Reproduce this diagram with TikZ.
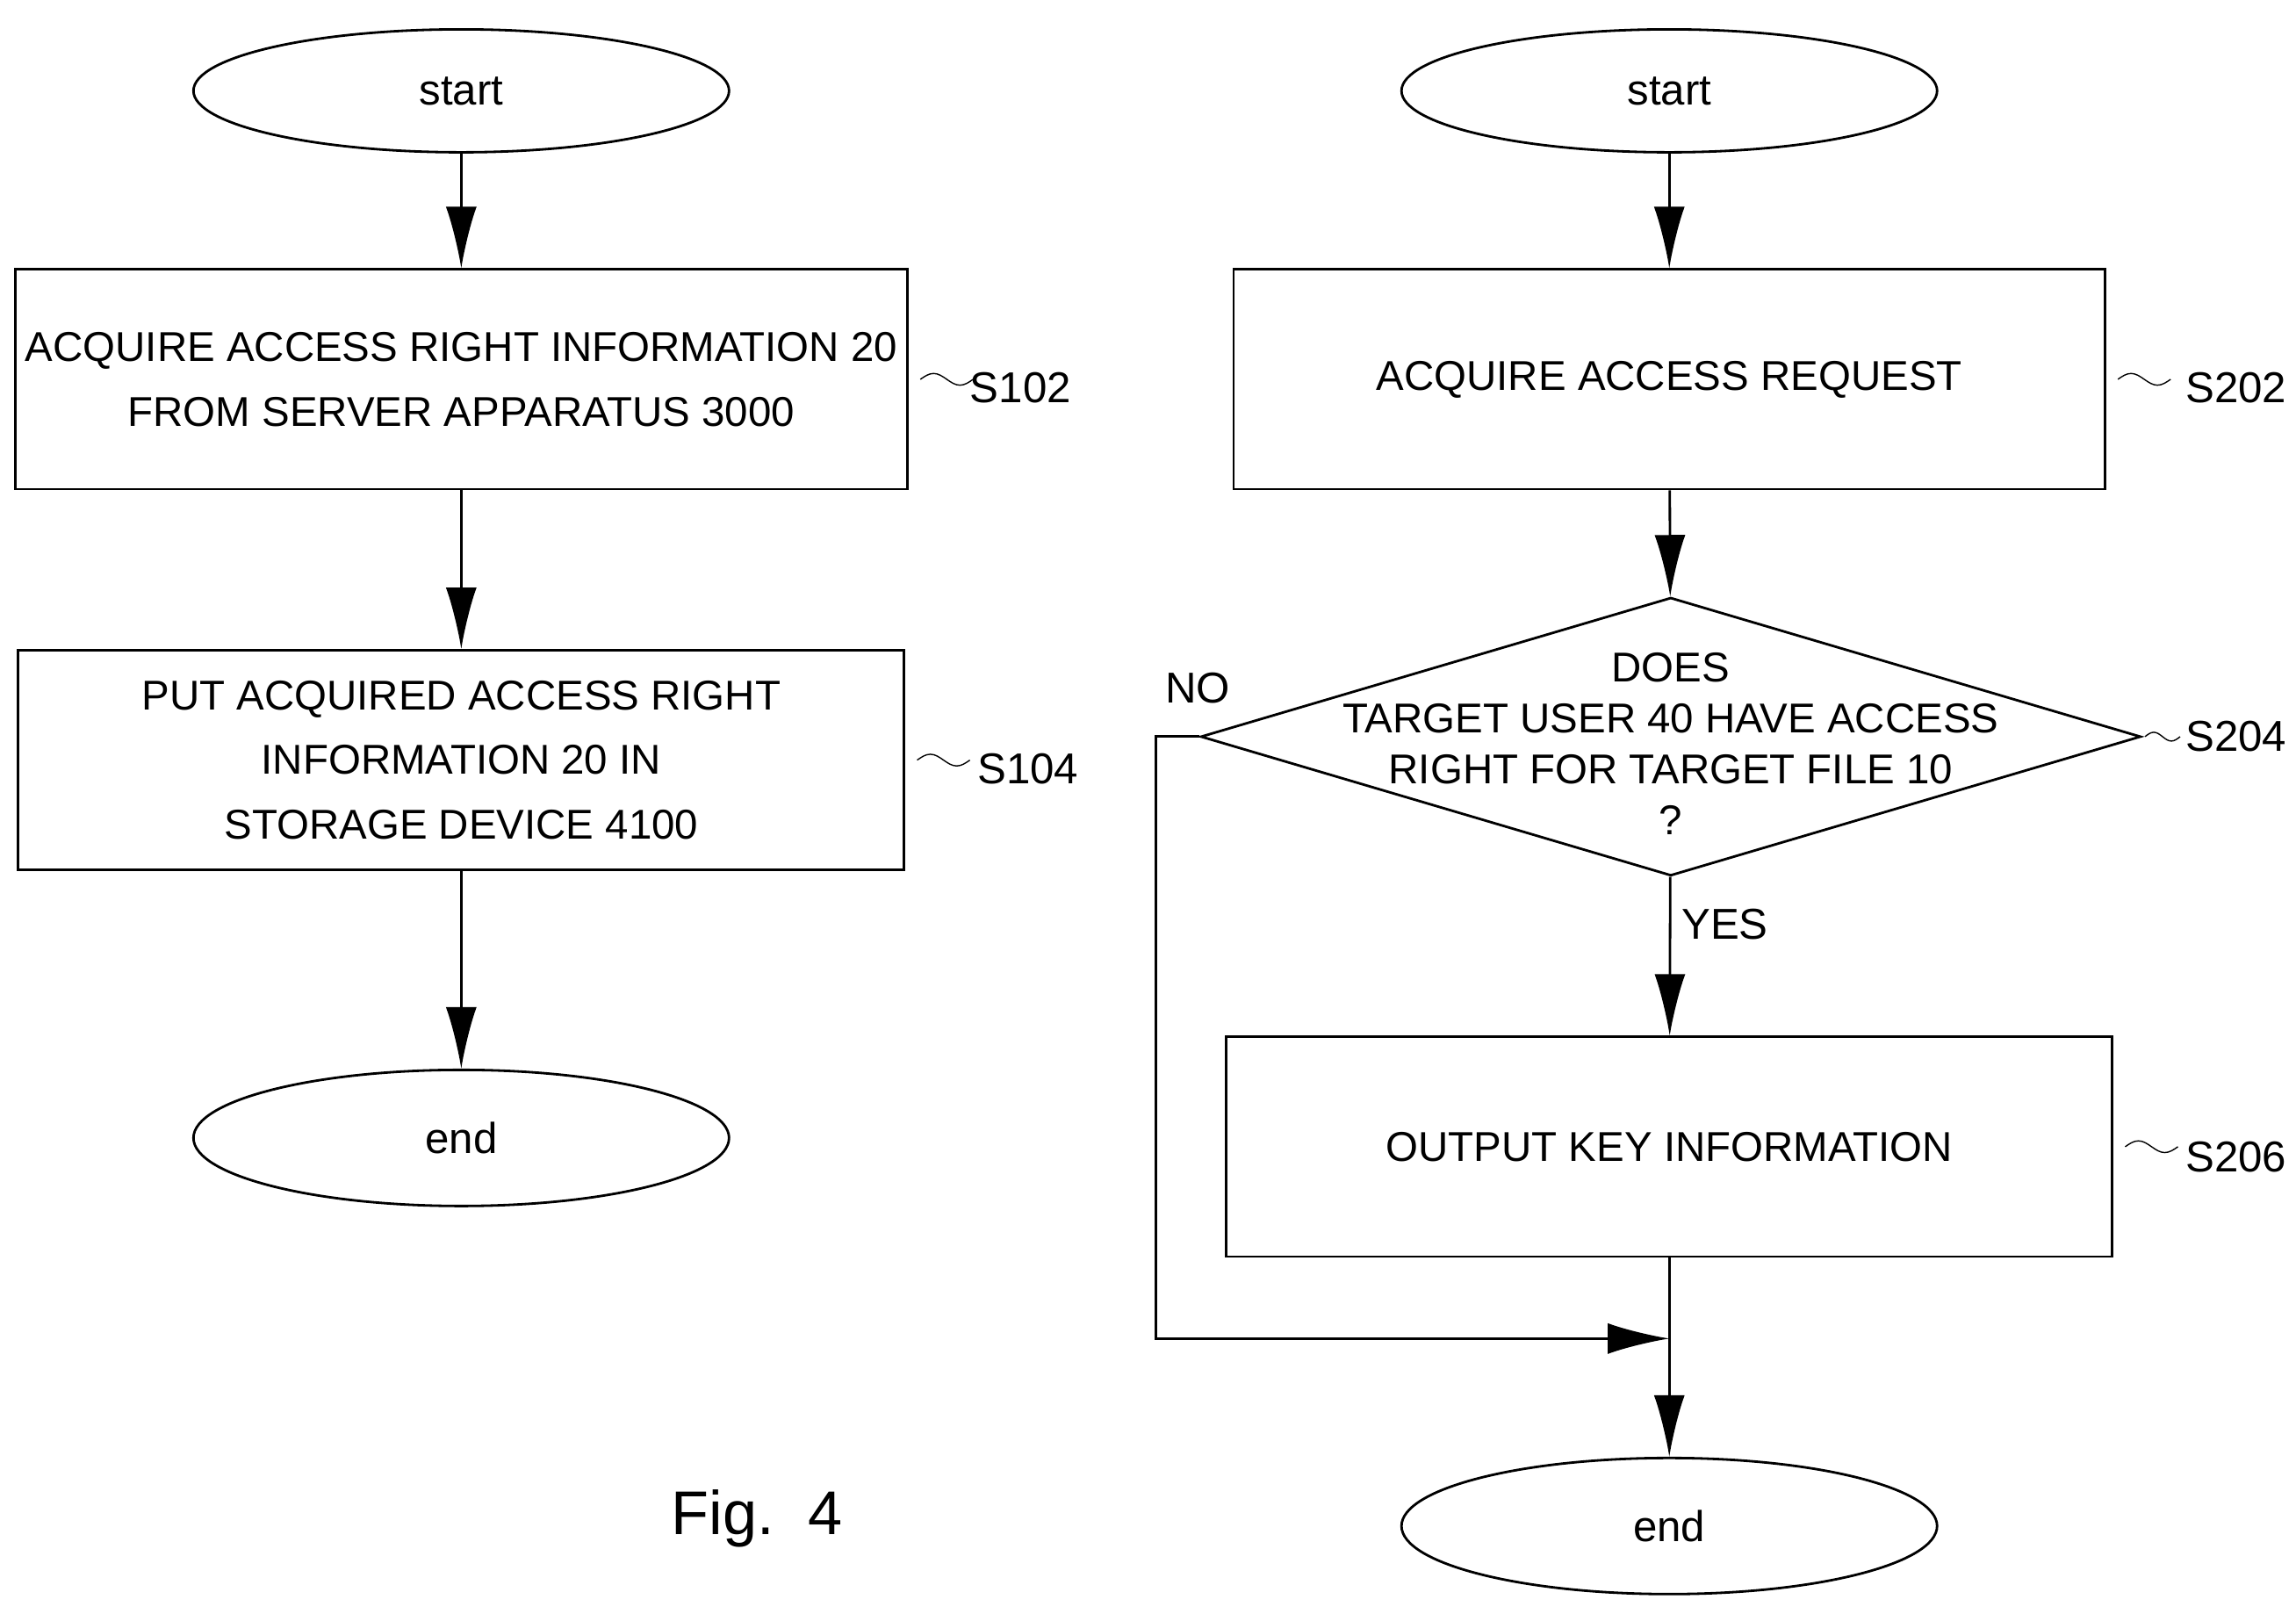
\documentclass[tikz,border=0pt]{standalone}
\usepackage{fontspec}
\setmainfont{Liberation Sans}
\usetikzlibrary{arrows.meta,shapes.geometric}
\tikzstyle{term}=[ellipse, draw, thick, minimum width=6.1cm, minimum height=1.4cm, font=\fontsize{14}{18}\selectfont]
\tikzstyle{proc}=[rectangle, draw, thick, align=center, font=\fontsize{13.5}{21}\selectfont]
\tikzstyle{dec}=[diamond, draw, thick, inner sep=0pt]
\tikzstyle{steplbl}=[font=\fontsize{14}{18}\selectfont, anchor=west, inner sep=1pt]
\tikzstyle{edge}=[thick, -{Latex[length=7mm,width=3.5mm]}]
\begin{document}
\begin{tikzpicture}[x=0.016677cm, y=-0.016677cm]
				\useasboundingbox (0,0) rectangle (1568,1102);
				%The left chart
				\node[term] (s1) at (315,62) {start};
				\node[proc, minimum width=595*0.016677cm, minimum height=150*0.016677cm] (a1) at (315,259)
					{ACQUIRE ACCESS RIGHT INFORMATION 20\\FROM SERVER APPARATUS 3000};
				\node[proc, minimum width=605*0.016677cm, minimum height=150*0.016677cm] (a2) at (315,519)
					{PUT ACQUIRED ACCESS RIGHT\\INFORMATION 20 IN\\STORAGE DEVICE 4100};
				\node[term, minimum height=1.55cm] (e1) at (315,777) {end};
				
				%The right chart
				\node[term] (s2) at (1140,62) {start};
				\node[proc, minimum width=595*0.016677cm, minimum height=150*0.016677cm] (b1) at (1140,259)
					{ACQUIRE ACCESS REQUEST};
				\node[dec, minimum width=642*0.016677cm, minimum height=190*0.016677cm] (b2) at (1141,503) {};
				\node[align=center, font=\fontsize{13.5}{16.5}\selectfont] (b2t) at (1141,508)
					{DOES\\TARGET USER 40 HAVE ACCESS\\RIGHT FOR TARGET FILE 10\\?};
				\node[proc, minimum width=605*0.016677cm, minimum height=150*0.016677cm] (b3) at (1140,783)
					{OUTPUT KEY INFORMATION};
				\node[term, minimum height=1.55cm] (e2) at (1140,1042) {end};
				\coordinate (j) at (1140,914);
				
				%Step labels
				\node[steplbl] (l1) at (660,265) {S102};
				\node[steplbl] (l2) at (665,525) {S104};
				\node[steplbl] (l3) at (1490,265) {S202};
				\node[steplbl] (l4) at (1490,503) {S204};
				\node[steplbl] (l5) at (1490,790) {S206};
				\draw[thin] (a1.east) ++(8,0) sin ++(9,-4) cos ++(9,4) sin ++(9,4) cos ++(9,-4);
				\draw[thin] (a2.east) ++(8,0) sin ++(9,-4) cos ++(9,4) sin ++(9,4) cos ++(9,-4);
				\draw[thin] (b1.east) ++(8,0) sin ++(9,-4) cos ++(9,4) sin ++(9,4) cos ++(9,-4);
				\draw[thin] (b2.east) ++(2,0) sin ++(6,-3) cos ++(6,3) sin ++(6,3) cos ++(6,-3);
				\draw[thin] (b3.east) ++(8,0) sin ++(9,-4) cos ++(9,4) sin ++(9,4) cos ++(9,-4);
				
				%Connectors
				\draw[edge] (s1) -- (a1);
				\draw[edge] (a1) -- (a2);
				\draw[edge] (a2) -- (e1);
				
				\draw[edge] (s2) -- (b1);
				\draw[edge] (b1) -- (b2);
				\draw[edge] (b2) -- node[right, pos=0.3, font=\fontsize{14}{18}\selectfont] {YES} (b3);
				\draw[edge] (b3) -- (e2);
				\draw[edge] (b2.west) -- ++(-30,0) |- (j);
				\node[font=\fontsize{14}{18}\selectfont] (no) at (818,470) {NO};
				
				\node[font=\fontsize{20}{24}\selectfont] (fig) at (517,1037) {Fig.~~4};
			\end{tikzpicture}
\end{document}
